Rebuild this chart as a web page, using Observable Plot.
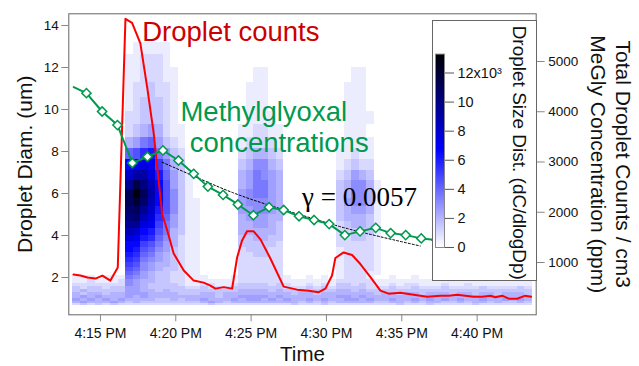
<!DOCTYPE html>
<html><head><meta charset="utf-8">
<script src="https://cdn.jsdelivr.net/npm/d3@7"></script>
<script src="https://cdn.jsdelivr.net/npm/@observablehq/plot@0.6"></script>
<style>
body{margin:0;background:#fff;font-family:"Liberation Sans",Arial,sans-serif;}
#wrap{position:relative;width:639px;height:366px;overflow:hidden;background:#fff}
#wrap > svg{position:absolute;left:0;top:0}
#legend{position:absolute;left:431.5px;top:20.2px;border:1px solid #666;background:#fff;line-height:0}
</style></head><body><div id="wrap"><div id="legend"></div></div>
<script>
// ---------- data (times in minutes after 4:00 PM) ----------
const xTickMin = [15, 20, 25, 30, 35, 40];
const leftTicks = [2, 4, 6, 8, 10, 12, 14];
const rightTicks = [1000, 2000, 3000, 4000, 5000];
const legendTicks = [0, 2000, 4000, 6000, 8000, 10000, 12000];
const legendTickLabels = ["0", "2", "4", "6", "8", "10", "12x10³"];

const yLabel = "Droplet Diam. (um)";
const xLabel = "Time";
const rightTitle1 = "Total Droplet Counts / cm3";
const rightTitle2 = "MeGly Concentration (ppm)";
const legendTitle = "Droplet Size Dist. (dC/dlogDp)";

// heatmap grid: 30 s columns from 4:13:10 PM, diameter bin edges (um)
const heatStartMin = 13 + 10/60;
const heatStepMin = 0.5;
const diamEdges = [0.65,0.76,0.88,1.0,1.13,1.27,1.41,1.57,1.73,1.9,2.09,2.28,2.49,2.71,2.94,3.19,3.45,3.73,4.02,4.33,4.66,5.01,5.38,5.78,6.19,6.64,7.1,7.6,8.13,8.68,9.28,9.9,10.57,11.27,12.02,12.6,13.2];
const levelUnit = 500; // each base-36 char = level * 500 dC/dlogDp
const heatCols = [
"2454433211","3545342211","2454433221","3445433210","2454332211","3544433211","2454433221",
"2345555667 89abcddfhj klmmjgd842 211110",
"2444555556 789abcdegj lmoqnie953 222111",
"2345544445 566789acdf hjlmkifb74 332221",
"2344443344 4556789bce fghihfec85 333221",
"2334433333 344556789a bcdddca754 332221",
"2334443333 3344455677 8999987532 222111",
"2344433322 2333334445 5666554321 111100",
"2334333222 2222222233 3333333211",
"2344332111 1111111111 111111",
"2344332111 1111111111 111",
"2454433211","3544432210","2443332110","2344432110","2454433211",
"2445443322 2222223344 4555443211",
"2455443322 2222233344 5566554321 111",
"2455443322 2222333445 5667776422 1111",
"2445443322 2222333445 5667766422 1111",
"2454433222 2222223344 4555554321 1",
"2445443322 2222222333 4444443211",
"2454432211","3444332110","2344432110","2454433211","2344332110","3454433211","2344432110",
"2445443321 1111112222 3333321100",
"2455443322 2222222223 4454432111 111",
"2454433222 2222222334 4566653211 1111",
"2445443322 2222222334 4566642111 1111",
"2454432221 1222222233 3444432110 1",
"2344332110 1111111111 11111",
"2344432110","2454433211","3444332110","2344432210","2454433211","2344332110","3454432110",
"2444432110","2354433211","2344332110","2454432110","2344432211","3444332110","2454433110",
"2344432110","2444332110","2354432110","2344432110","2454433110","2344332110"
];

// droplet counts (/cm3)
const redMin = [13.21,13.67,14.14,14.67,15.13,15.66,16.15,16.66,17.10,17.65,18.10,18.54,19.09,19.43,19.86,20.53,21.19,21.85,22.30,22.63,23.18,23.74,24.07,24.40,24.73,25.17,25.62,26.28,27.16,28.05,28.82,29.49,29.93,30.37,30.59,31.14,31.70,32.25,32.92,33.58,34.13,34.91,35.79,36.68,37.56,38.11,38.67,39.22,39.77,40.33,40.88,41.21,41.66,42.10,42.65,43.20,43.58];
const redVal = [760,740,700,680,740,640,900,5850,5770,5360,4490,3560,1970,1640,1180,840,640,600,540,480,510,480,1100,1440,1620,1620,1460,1080,520,460,440,410,480,740,1090,1200,1150,970,710,440,380,400,360,320,340,340,360,340,320,320,340,310,340,280,280,340,320];

// methylglyoxal (ppm)
const greenMin = [13.23,14.07,15.11,16.13,17.12,18.12,19.15,20.18,21.19,22.13,23.14,24.12,25.15,26.19,27.16,28.18,29.18,30.18,31.22,32.23,33.27,34.26,35.26,36.29,37.30];
const greenVal = [4490,4370,4005,3735,2980,3105,3230,3030,2765,2510,2345,2155,1940,2100,2045,1920,1845,1765,1545,1620,1690,1585,1545,1480,1450];

// decay fit (dotted)
const fitMin = [19.09,21.64,23.83,26.06,28.27,30.48,32.70,36.23];
const fitVal = [2996,2660,2385,2154,1950,1750,1575,1328];

// annotations
const annoText = ["Droplet counts", "Methylglyoxal", "concentrations", "γ = 0.0057"];
const annoMin = [17.77, 20.31, 20.93, 28.38];
const annoVal = [5575, 3997, 3366, 2305];
const annoColor = ["#cc0000", "#00994d", "#00994d", "#000000"];
const annoFont = ['"Liberation Sans",Arial,sans-serif','"Liberation Sans",Arial,sans-serif','"Liberation Sans",Arial,sans-serif','"Liberation Serif","Times New Roman",serif'];
const annoSize = [27.5, 27.5, 27.5, 27];

// ---------- build ----------
const base = new Date(2020, 0, 1, 16, 0, 0);
const tm = m => new Date(base.getTime() + m * 60000);
const W = 639, H = 366, ML = 68.3, MR = 103.3, MT = 13.3, MB = 51.7;
const xDomain = [tm(12.9), tm(43.92)];
const font = '"Liberation Sans",Arial,sans-serif';
const colorScale = {type: "linear", domain: [0, 13300],
  interpolate: d3.piecewise(d3.interpolateRgb, ["#ffffff", "#0000ff", "#000000"])};

const heat = [];
heatCols.forEach((s, k) => {
  const str = s.replace(/ /g, "").padEnd(diamEdges.length - 1, "0");
  for (let i = 0; i < diamEdges.length - 1; i++) {
    const lv = parseInt(str[i], 36);
    if (lv > 0) heat.push({
      t1: tm(heatStartMin + k * heatStepMin), t2: tm(heatStartMin + (k + 1) * heatStepMin),
      d1: diamEdges[i], d2: diamEdges[i + 1], v: lv * levelUnit
    });
  }
});
const redData = redMin.map((m, i) => ({t: tm(m), v: redVal[i]}));
const greenData = greenMin.map((m, i) => ({t: tm(m), v: greenVal[i], i}));
const fitData = fitMin.map((m, i) => ({t: tm(m), v: fitVal[i]}));
const annos = annoText.map((s, i) => ({s, t: tm(annoMin[i]), v: annoVal[i], c: annoColor[i], f: annoFont[i], z: annoSize[i]}));

const wrap = document.getElementById("wrap");

const p1 = Plot.plot({
  width: W, height: H, marginLeft: ML, marginRight: MR, marginTop: MT, marginBottom: MB,
  style: {background: "transparent", fontFamily: font, overflow: "visible"},
  x: {type: "time", domain: xDomain},
  y: {domain: [0.224, 14.557]},
  color: colorScale,
  marks: [
    Plot.rect(heat, {x1: "t1", x2: "t2", y1: "d1", y2: "d2", fill: "v", shapeRendering: "crispEdges"}),
    Plot.frame({stroke: "#666"}),
    Plot.axisY(leftTicks, {anchor: "left", tickSize: 7, tickPadding: 3, fontSize: 13.5, stroke: "#888", fill: "#111", label: null}),
    Plot.axisX(xTickMin.map(tm), {anchor: "bottom", tickSize: 7, tickPadding: 6.5, fontSize: 14, stroke: "#888", fill: "#111",
      tickFormat: d3.timeFormat("%-I:%M %p"), label: null}),
    Plot.text([yLabel], {text: d => d, frameAnchor: "left", dx: -44, rotate: -90, textAnchor: "middle", lineAnchor: "middle", fontSize: 21, fill: "#111"}),
    Plot.text([xLabel], {text: d => d, frameAnchor: "bottom", dy: 40, textAnchor: "middle", lineAnchor: "middle", fontSize: 20.5, fill: "#111"})
  ]
});
wrap.insertBefore(p1, wrap.firstChild);

const green = "#00994d";
const p2 = Plot.plot({
  width: W, height: H, marginLeft: ML, marginRight: MR, marginTop: MT, marginBottom: MB,
  style: {background: "transparent", fontFamily: font, overflow: "visible"},
  x: {type: "time", domain: xDomain, axis: null},
  y: {domain: [-40.6, 5949]},
  marks: [
    Plot.line(redData, {x: "t", y: "v", stroke: "#ff0000", strokeWidth: 2}),
    Plot.line(fitData, {x: "t", y: "v", stroke: "#000", strokeWidth: 1, strokeDasharray: "2,2", curve: "natural"}),
    Plot.line(greenData, {x: "t", y: "v", stroke: green, strokeWidth: 2}),
    Plot.dot(greenData, {filter: d => d.i > 0, x: "t", y: "v", symbol: d3.symbolDiamond2 || "square",
      rotate: d3.symbolDiamond2 ? 0 : 45, r: 4.15, fill: "white", stroke: green, strokeWidth: 1.5}),
    Plot.axisY(rightTicks, {anchor: "right", tickSize: 8, tickPadding: 4, fontSize: 13.5, stroke: "#888", fill: "#111",
      tickFormat: d => String(d), label: null}),
    Plot.text([rightTitle1], {text: d => d, frameAnchor: "right", dx: 87, rotate: 90, textAnchor: "middle", lineAnchor: "middle", fontSize: 21, fill: "#111"}),
    Plot.text([rightTitle2], {text: d => d, frameAnchor: "right", dx: 62, rotate: 90, textAnchor: "middle", lineAnchor: "middle", fontSize: 21, fill: "#111"}),
    ...annos.map(a => Plot.text([a], {x: "t", y: "v", text: "s", textAnchor: "start", lineAnchor: "middle",
      fill: a.c, fontSize: a.z, fontFamily: a.f}))
  ]
});
wrap.insertBefore(p2, document.getElementById("legend"));

const labelMap = new Map(legendTicks.map((d, i) => [d, legendTickLabels[i]]));
const p3 = Plot.plot({
  width: 103, height: 258.6, marginLeft: 2, marginRight: 92, marginTop: 32.6, marginBottom: 32.6,
  style: {background: "white", fontFamily: font, overflow: "visible"},
  x: {domain: [0, 1], axis: null},
  y: {domain: [0, 13300], axis: null},
  color: colorScale,
  marks: [
    Plot.rect(d3.range(0, 13300, 50), {x1: 0, x2: 1, y1: d => d, y2: d => d + 50, fill: d => d, shapeRendering: "crispEdges"}),
    Plot.frame({stroke: "#888"}),
    Plot.axisY(legendTicks, {anchor: "right", tickSize: 9, tickPadding: 4, fontSize: 14.5, stroke: "#555", fill: "#111",
      tickFormat: d => labelMap.get(d), label: null}),
    Plot.text([legendTitle], {text: d => d, frameAnchor: "right", dx: 74.5, dy: 2, rotate: 90, textAnchor: "middle", lineAnchor: "middle", fontSize: 19, fill: "#111"})
  ]
});
document.getElementById("legend").appendChild(p3);
</script></body></html>
